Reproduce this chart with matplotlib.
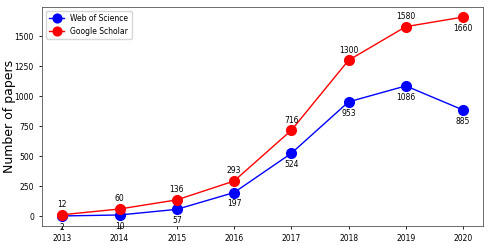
import numpy as np
import matplotlib.pyplot as plt

years = [2013, 2014, 2015, 2016, 2017, 2018, 2019, 2020]
wos = [2, 10, 57, 197, 524, 953, 1086, 885]
gs = [12, 60, 136, 293, 716, 1300, 1580, 1660]

fig = plt.figure(figsize=(4.91, 2.45), dpi=100)
ax = fig.add_axes([0.086, 0.078, 0.898, 0.893])

ax.plot(years, wos, color="blue", marker="o", markersize=7, linewidth=1, label="Web of Science")
ax.plot(years, gs, color="red", marker="o", markersize=7, linewidth=1, label="Google Scholar")

for x, y in zip(years, wos):
    ax.annotate(str(y), (x, y), xytext=(0, -5), textcoords="offset points",
                ha="center", va="top", fontsize=5.5)
for i, (x, y) in enumerate(zip(years, gs)):
    if i == len(gs) - 1:
        ax.annotate(str(y), (x, y), xytext=(0, -5), textcoords="offset points",
                    ha="center", va="top", fontsize=5.5)
    else:
        ax.annotate(str(y), (x, y), xytext=(0, 4), textcoords="offset points",
                    ha="center", va="bottom", fontsize=5.5)

ax.set_ylabel("Number of papers", fontsize=9)
ax.yaxis.set_label_coords(-0.06, 0.5)
ax.set_xticks(years)
ax.tick_params(labelsize=5.5, length=2.5, width=0.6)
for s in ax.spines.values():
    s.set_linewidth(0.6)
    s.set_color("#555555")
ax.legend(loc="upper left", fontsize=5.5, markerscale=0.9)

fig.savefig("out.png", dpi=100)
